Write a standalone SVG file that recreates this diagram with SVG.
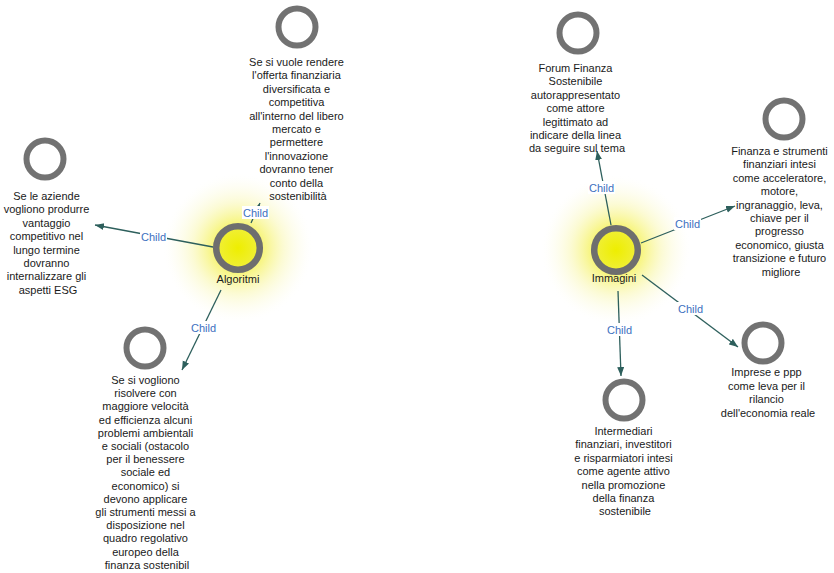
<svg xmlns="http://www.w3.org/2000/svg" width="834" height="573" viewBox="0 0 834 573">
  <defs>
    <radialGradient id="glow" cx="50%" cy="50%" r="50%">
      <stop offset="0" stop-color="#f2f000" stop-opacity="1"/>
      <stop offset="0.3" stop-color="#f5f25a" stop-opacity="0.85"/>
      <stop offset="0.6" stop-color="#f9f7b0" stop-opacity="0.55"/>
      <stop offset="0.85" stop-color="#fcfbe0" stop-opacity="0.25"/>
      <stop offset="1" stop-color="#ffffff" stop-opacity="0"/>
    </radialGradient>
    <radialGradient id="core" cx="50%" cy="50%" r="50%">
      <stop offset="0" stop-color="#eeee00"/>
      <stop offset="1" stop-color="#f0ef3a"/>
    </radialGradient>
    <marker id="arrow" markerUnits="userSpaceOnUse" markerWidth="10" markerHeight="8" refX="9" refY="3.5" orient="auto">
      <path d="M0,0 L9,3.5 L0,7 z" fill="#2d5f5c"/>
    </marker>
  </defs>
  <style>
    .ring { fill: #ffffff; stroke: #727272; stroke-width: 6; }
    .hub { fill: url(#core); stroke: #6e6e6e; stroke-width: 6.5; }
    .txt { font-family: "Liberation Sans", Arial, sans-serif; font-size: 11px; fill: #1a1a1a; text-anchor: middle; }
    .edge { stroke: #2d5f5c; stroke-width: 1.3; fill: none; marker-end: url(#arrow); }
    .lbl { font-family: "Liberation Sans", Arial, sans-serif; font-size: 11px; fill: #3d6fc0; text-anchor: middle; }
    .lblbg { fill: #ffffff; }
  </style>

  <rect width="834" height="573" fill="#ffffff"/>

  <!-- soft halos behind the two hub nodes -->
  <circle cx="238" cy="248" r="76" fill="url(#glow)"/>
  <circle cx="616" cy="250" r="76" fill="url(#glow)"/>

  <g id="connectors">
    <path class="edge" d="M213,247 L95,225"/>
    <path class="edge" d="M251,223 L260,203"/>
    <path class="edge" d="M221,290 L182,370"/>
    <path class="edge" d="M611,225 L597,151"/>
    <path class="edge" d="M641,243 L735,206"/>
    <path class="edge" d="M642,275 L738,347"/>
    <path class="edge" d="M618,291 L621,376"/>

    <rect class="lblbg" x="140" y="230" width="27" height="13"/>
    <text class="lbl" x="153.5" y="241">Child</text>
    <rect class="lblbg" x="242" y="206" width="27" height="13"/>
    <text class="lbl" x="255.5" y="217">Child</text>
    <rect class="lblbg" x="190" y="321" width="27" height="13"/>
    <text class="lbl" x="203.5" y="332">Child</text>
    <rect class="lblbg" x="588" y="181" width="27" height="13"/>
    <text class="lbl" x="601.5" y="192">Child</text>
    <rect class="lblbg" x="674" y="217" width="27" height="13"/>
    <text class="lbl" x="687.5" y="228">Child</text>
    <rect class="lblbg" x="677" y="302" width="27" height="13"/>
    <text class="lbl" x="690.5" y="313">Child</text>
    <rect class="lblbg" x="606" y="323" width="27" height="13"/>
    <text class="lbl" x="619.5" y="334">Child</text>
  </g>

  <g id="algoritmi">
    <circle class="hub" cx="238" cy="248" r="21.8"/>
    <text class="txt" x="238" y="283">Algoritmi</text>
  </g>

  <g id="immagini">
    <circle class="hub" cx="616" cy="250" r="21.8"/>
    <text class="txt" x="614" y="282">Immagini</text>
  </g>

  <g id="esg">
    <circle class="ring" cx="45" cy="159" r="18.5"/>
    <text class="txt" y="200">
      <tspan x="48" dy="0">Se le aziende</tspan>
      <tspan x="48" dy="13.4">vogliono produrre</tspan>
      <tspan x="48" dy="13.4">vantaggio</tspan>
      <tspan x="48" dy="13.4">competitivo nel</tspan>
      <tspan x="48" dy="13.4">lungo termine</tspan>
      <tspan x="48" dy="13.4">dovranno</tspan>
      <tspan x="48" dy="13.4">internalizzare gli</tspan>
      <tspan x="48" dy="13.4">aspetti ESG</tspan>
    </text>
  </g>

  <g id="offerta">
    <circle class="ring" cx="297" cy="27" r="18.5"/>
    <text class="txt" y="66">
      <tspan x="298" dy="0">Se si vuole rendere</tspan>
      <tspan x="298" dy="13.4">l'offerta finanziaria</tspan>
      <tspan x="298" dy="13.4">diversificata e</tspan>
      <tspan x="298" dy="13.4">competitiva</tspan>
      <tspan x="298" dy="13.4">all'interno del libero</tspan>
      <tspan x="298" dy="13.4">mercato e</tspan>
      <tspan x="298" dy="13.4">permettere</tspan>
      <tspan x="298" dy="13.4">l'innovazione</tspan>
      <tspan x="298" dy="13.4">dovranno tener</tspan>
      <tspan x="298" dy="13.4">conto della</tspan>
      <tspan x="298" dy="13.4">sostenibilità</tspan>
    </text>
  </g>

  <g id="problemi">
    <circle class="ring" cx="145" cy="348" r="18.5"/>
    <text class="txt" y="384">
      <tspan x="147" dy="0">Se si vogliono</tspan>
      <tspan x="147" dy="13.2">risolvere con</tspan>
      <tspan x="147" dy="13.2">maggiore velocità</tspan>
      <tspan x="147" dy="13.2">ed efficienza alcuni</tspan>
      <tspan x="147" dy="13.2">problemi ambientali</tspan>
      <tspan x="147" dy="13.2">e sociali (ostacolo</tspan>
      <tspan x="147" dy="13.2">per il benessere</tspan>
      <tspan x="147" dy="13.2">sociale ed</tspan>
      <tspan x="147" dy="13.2">economico) si</tspan>
      <tspan x="147" dy="13.2">devono applicare</tspan>
      <tspan x="147" dy="13.2">gli strumenti messi a</tspan>
      <tspan x="147" dy="13.2">disposizione nel</tspan>
      <tspan x="147" dy="13.2">quadro regolativo</tspan>
      <tspan x="147" dy="13.2">europeo della</tspan>
      <tspan x="147" dy="13.2">finanza sostenibil</tspan>
    </text>
  </g>

  <g id="forum">
    <circle class="ring" cx="578" cy="33" r="18.5"/>
    <text class="txt" y="72">
      <tspan x="577" dy="0">Forum Finanza</tspan>
      <tspan x="577" dy="13.4">Sostenibile</tspan>
      <tspan x="577" dy="13.4">autorappresentato</tspan>
      <tspan x="577" dy="13.4">come attore</tspan>
      <tspan x="577" dy="13.4">legittimato ad</tspan>
      <tspan x="577" dy="13.4">indicare della linea</tspan>
      <tspan x="577" dy="13.4">da seguire sul tema</tspan>
    </text>
  </g>

  <g id="strumenti">
    <circle class="ring" cx="784" cy="119" r="18.5"/>
    <text class="txt" y="155">
      <tspan x="781" dy="0">Finanza e strumenti</tspan>
      <tspan x="781" dy="13.4">finanziari intesi</tspan>
      <tspan x="781" dy="13.4">come acceleratore,</tspan>
      <tspan x="781" dy="13.4">motore,</tspan>
      <tspan x="781" dy="13.4">ingranaggio, leva,</tspan>
      <tspan x="781" dy="13.4">chiave per il</tspan>
      <tspan x="781" dy="13.4">progresso</tspan>
      <tspan x="781" dy="13.4">economico, giusta</tspan>
      <tspan x="781" dy="13.4">transizione e futuro</tspan>
      <tspan x="781" dy="13.4">migliore</tspan>
    </text>
  </g>

  <g id="imprese">
    <circle class="ring" cx="763" cy="343" r="18.5"/>
    <text class="txt" y="376">
      <tspan x="768" dy="0">Imprese e ppp</tspan>
      <tspan x="768" dy="13.5">come leva per il</tspan>
      <tspan x="768" dy="13.5">rilancio</tspan>
      <tspan x="768" dy="13.5">dell'economia reale</tspan>
    </text>
  </g>

  <g id="intermediari">
    <circle class="ring" cx="624" cy="400" r="18.5"/>
    <text class="txt" y="435">
      <tspan x="625" dy="0">Intermediari</tspan>
      <tspan x="625" dy="13.4">finanziari, investitori</tspan>
      <tspan x="625" dy="13.4">e risparmiatori intesi</tspan>
      <tspan x="625" dy="13.4">come agente attivo</tspan>
      <tspan x="625" dy="13.4">nella promozione</tspan>
      <tspan x="625" dy="13.4">della finanza</tspan>
      <tspan x="625" dy="13.4">sostenibile</tspan>
    </text>
  </g>
</svg>
